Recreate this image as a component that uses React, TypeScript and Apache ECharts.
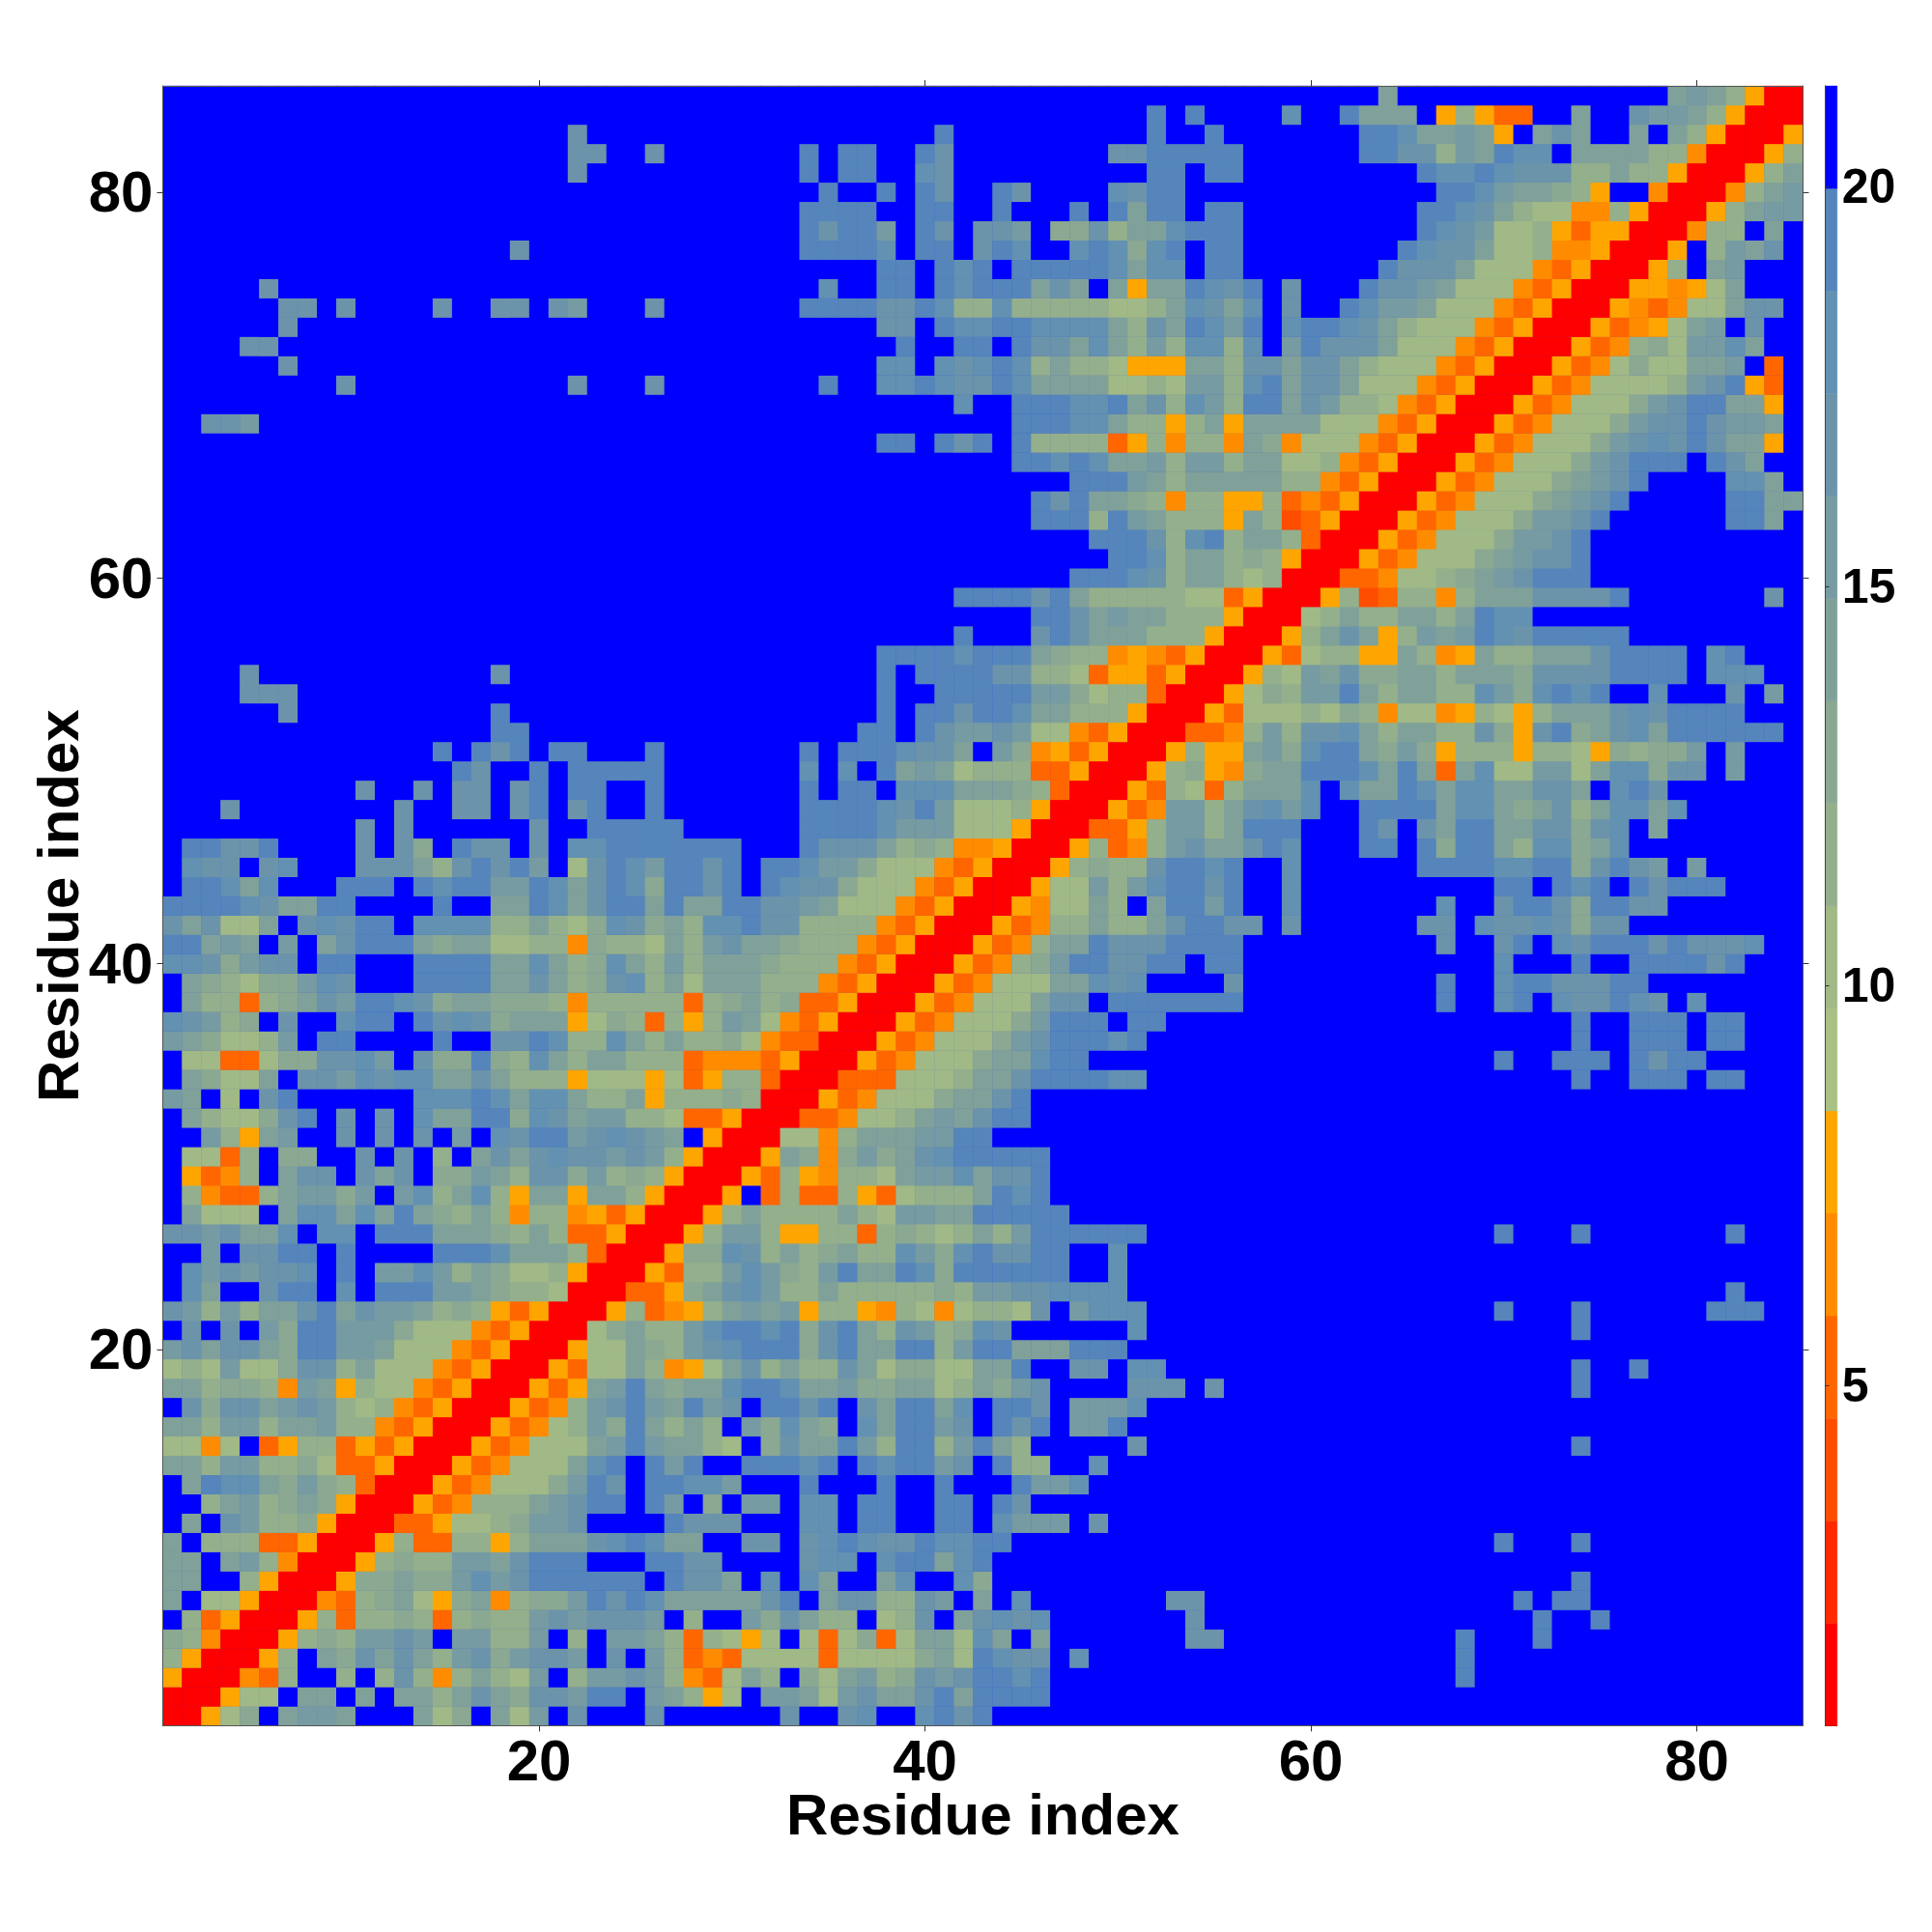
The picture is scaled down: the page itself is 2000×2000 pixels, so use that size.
import React, { useEffect, useRef } from "react";
import * as echarts from "echarts";

// Colour-bar scale: 16 equal levels between these limits
const scaleMin = 0.74;
const scaleMax = 21.26;
const levelColors = [
  "#ff0000", "#ff2a00", "#ff4d00", "#ff6600", "#ff8c00", "#ffa500",
  "#a9c184", "#a0b986", "#94af8c", "#8aa892", "#80a19a", "#769ba2",
  "#6b94ab", "#6291b2", "#5585bb", "#0000ff",
];
const barTicks = [5, 10, 15, 20];
const axisTicks = [20, 40, 60, 80];
const axisName = "Residue index";

// Distance level per cell (hex digit of the level, "." = top level), row 1 (bottom) first,
// column 1 first, grouped by ten; rows are blue to the right of where they stop.
const levelRows = [
  "00579.abba ...a79.a7b .c...c.... ..c..cd..d ece",
  "000577.aa. a.aa8aca9c cbee.ba857 .bba7bcaac eaeeee",
  "5000438..8 .8c848a87b .8bbcb8437 a8.97ab89c bceede.... .......... .......e..",
  "8500058.a9 caca8bc9bc cb.c.b8343 7777377779 a7edcc.d.. .......... .......e..",
  "9840005898 bbcb.bb88b .8.bba8387 57.737937a a7da.a.... ...cc..... .......e.. .e",
  ".835000583 889838988b cbcccb.8.. b9ca88.78c .acdcd.... ...c...... .......... .e..e",
  "a.77500043 89a759a489 9becedaaaa ace.acc88c b.a.d..... ..cc...... .......... e.ee",
  "aa..850005 99a99bdbce eeeee.ecca .d.da..ad. .d9....... .......... .......... ...e",
  "aa.ab84000 58988bbace ee...eecc. ...cdd.dee ade",
  "a.88833500 058338858a aacdedaa.. cc.cdedcce ddee...... .......... .........e ...e",
  ".a.cb88950 003357789b bc....eccc ...dd.ee.. ee.dbbb.c",
  "..8ab89a95 000534888a bcee.eb.9. bb.dd.ee.. ee.ec",
  ".aedda9b98 3000534777 9bec.eeddb ...e...e.. e...ebbd",
  "aa8bb88973 3500053477 7ade.ebe.. eeede.edee bc.e88..d",
  "7747.35883 5350005347 77abebaa87 .9caaeb8ee 8bea8..... c......... .......... ...e",
  "aa8bb8aab8 8435000534 78b9ea8a8. b9da9.daee bc.ece.bbe",
  ".c9ccabcb8 7843500053 48bcebaebc .eece.caee ad.eec.bbb d",
  "aa89984ba5 8774350005 35abea9aad eedaab99aa 78a9bc.... ccc.c..... .......... ...e",
  "787b779cc8 a777435000 5377a8457a c8a88ca799 77aae..cc. dd........ .......... ...e..e",
  "bcacca9eeb ba77743500 0577a98bcd eee9ceaaee 8beeaaaeee",
  ".c.c.b9eeb bb97774350 0079a88bde ede9cea8cb 89dc...... d......... .......... ...e",
  "cb8b8aacea cbba898535 000583458a bab5885487 47887c.bdd d......... .........e ...e...... eee",
  ".da..cee.d .eeebba988 70003359ac db88a88888 98bbccdddd .......... .......... .......... .e",
  ".dbcbccd.e .bbdb8a977 850005388b db98beaaed 9eeeeee..d",
  "..b.ccee.e ....eeedaa a83000599d c8a89a88db 9deccee..d",
  "ccbcaad.dd .eeeaaa98a 833500058b b855883898 78a8beeeee e......... .........e ...e...... .e",
  ".a777.adda daea98a848 8453500058 a8888a87bb aaeeeee",
  ".84338abb9 b.bd8ad85a a5aa850005 .383385378 88aede",
  ".5348.acc. cac.99ba8c c9b8985000 53854887ab bdacce",
  ".7738.99.. c.c.8.acac dccbcb8500 05a949b9ac deeeee",
  "..b85ab..c .c.c.b.dce ebcdcba.50 007748aaab bee",
  ".a8779ce.c .c.daaee9d cabb887335 000334778a bacee",
  "ba.7.ce... ...dddedad da88a58889 8000534777 9aace",
  ".a977a.ccb dcddaaca88 8577757358 8300033377 78aaceeeed d......... .......... ...e..eee. ee",
  ".7733799cc db.c99e98d a8aa888344 4350005347 779aadee.. .......... .........e ..eee.ecee",
  "ba9778b.ee ....e..cce d88da8a889 7433000534 7779bceeed e......... .......... ...e..eee. ee",
  "dcb89.c..d ee.ecdc9aa a57983858b a743500053 47779beee. ee........ .......... ...e..eee. ee",
  ".a88389acb eedc9aa999 8488888389 a893350005 34777acc.e eeeeee.... ......e..d e.dccedc.d",
  ".a98799bdc ...eeeeaac a89cd8a7aa a888435000 534777aadc d....c.... ......e..d eecccee",
  "ddc9bcc.ee ...eeeeaad a89da8b8aa a988843500 053489beec cee.ee.... .........d ...e..eeee ce",
  "eeaba.b.ac eeea9aa778 849887a8bc aa98884350 005348aaec cceeee.... ......c..c e.dceeecec ccd",
  "cac77a.cdc ee.dddd88a 879dc9a8dd ecc8888435 00053488a8 8aceecc.c. .....cc.dc cdc9cc",
  "eeeedcaaee ....e..aae daceeaeaae eccba77743 50005477a8 .aeebe..d. ......d..c eec9eecc",
  ".eedad...e ee.edeebbe daced9eece .edcc97774 35000577b8 bdeece..d. .........e e.ede.ecee e",
  ".dcc.cd... ccca8ceceb .7cedbeece .eedbb9777 4350005898 8ceede..d. .....eeeed dee9cecb.b",
  ".eecce.... c.c9.ecc.c .ddeeeeeee ...eccca89 8445000583 48bcaaced. ..ee.e9eea 8dd9ad",
  ".......... c.c......c ..eeeee... ...eeeedbb b777500033 58bb8aeee. ..ec.caeea acc9cd.a",
  "...c...... ..c..cc.ce .ce..e.... ...eeeedce b777850005 34bb8acdbd ..eeeeadda 9ac8addad",
  ".......... c..c.cc.ce .ee..e.... ...e.ee.dd daaa983000 538738aaad .daaedadda acca.dec",
  ".......... .....ec..e .eeeee.... ...d.d.eab a788833500 0589549aae eedaea3ad7 7bb7add9cc .b",
  ".......... ....e.ece. ee...e.... ...e.eeedc ca.b945350 005855ab9d eea9b95888 588759899b .b",
  ".......... .......ee. .......... ......ee.e cbbcb77435 0003348b8c cda8aa88c9 5ce9acdaee eeee",
  "......c... .......e.. .......... .......e.e eceedaa888 5000537778 7984774587 58aaacdcee ee",
  "....ccc... .......... .......... .......e.. eeeeebb978 830005798b bea8aa88db 9dede..d.. .c.b",
  "....c..... .......c.. .......... .......e.e eeecc88735 535000587b ac99aa8aaa 9cccceeee. ddd",
  ".......... .......... .......... .......eee edeeea9884 5435000537 8855a845a8 8aaaceeee. de",
  ".......... .......... .......... .......... .e...cecaa a888500058 aca58babed ceeeee",
  ".......... .......... .......... .......... .....eecab aa88850007 8a88aa8aed d",
  ".......... .......... .......... .......... .eeeecea88 8887735000 58238848aa acccce.... ...c",
  ".......... .......... .......... .......... .......eee dc8aa87800 03347789ab ceee",
  ".......... .......... .......... .......... .........e ed8aa89850 005347779a bcce",
  ".......... .......... .......... .......... ........ee ec8de8aa83 0005347779 bbce",
  ".......... .......... .......... .......... .....eee8e ba8885a823 5000534777 9bbce..... .eea",
  ".......... .......... .......... .......... .....eceaa 9848855834 3500053477 79abce.... .eeaa",
  ".......... .......... .......... .......... .......eee ba8aaaaa88 4350005347 779abce... .dda",
  ".......... .......... .......... .......... ....eededa ab8bb8aa77 8435000534 7779bceee. eca",
  ".......... .......... .......... .......ee. ece.e88883 584884a947 7743500053 47779bcdce caa5",
  "..ccb..... .......... .......... .......... ....eeedda 8858a5aaaa 7774350005 347779bcce cbba",
  ".......... .......... .......... .......... .d..eeedde ac8db8eeac b887435000 5347779bce eaa5",
  ".........c .......... .c...c.... ....e..dde dccedaaaa7 787bb8deac ca77743500 053477778b ce53",
  "......c... .......... .......... .......dd. dcded8a887 555aa8ccac ca87774350 005347977a ab.3",
  "....cc.... .......... .......... ........e. .ee.eccada 8b8dd8d.be ccca777435 000534897b bda",
  "......c... .......... .......... .......cc. eddeedddda 8caedbe.de edca877743 500053457a b.c",
  "......cc.c ....c..cc. cb...c.... ...eeeecce d88d888887 78adcad.c. .edbba7774 3500054347 7acc",
  ".....c.... .......... .......... ....d..ee. edeeeaca.a 5aaedce.c. ..eccba777 4350005545 7a",
  ".......... .......... .......... .......ee. ede.eeeeed add.ee.... ...eccca77 743500058. ab",
  ".......... ........c. .......... ...eeeed.e e.ced..ded 9de.ee.... ....edcca7 784450005. 8bac",
  ".......... .......... .......... ...eceeb.e c.ccb.99c8 aadeee.... .....edcb7 7853550004 88.a",
  ".......... .......... .......... ...eeee..e e..e...e.e aee.ee.... .....eedca 8774485000 58abb",
  ".......... .......... .......... ....e..e.e c..ec....d cee....... ......eedb aa985..400 048ab",
  ".......... .......... .c........ ...e.ee..d c......... .ee.ee.... .....edded ccc88a8850 0058a",
  ".......... .......... .cc..c.... ...e.ee..e c........c ceeeee.... ..eecc8bae dd.aaaa884 00058",
  ".......... .......... .c........ .......... e......... .e..e..... ..eedaaba5 .aca..a.a8 50005",
  ".......... .......... .......... .......... .......... .e.e....d. .eaaa.5853 3..a..cbba 85000",
  ".......... .......... .......... .......... .......... .......... ...a...... ........ab a8500",
];

const cellCount = 85;
const levelStep = (scaleMax - scaleMin) / levelColors.length;
const indices = Array.from({ length: cellCount }, (_, i) => String(i + 1));

function cellData(): number[][] {
  const out: number[][] = [];
  levelRows.forEach((raw, r) => {
    const row = raw.replace(/ /g, "").padEnd(cellCount, ".").slice(0, cellCount);
    for (let c = 0; c < cellCount; c++) {
      const level = row[c] === "." ? 15 : parseInt(row[c], 16);
      out.push([c, r, scaleMin + levelStep * (level + 0.5)]);
    }
  });
  return out;
}

const isTick = (_: number, value: string) => axisTicks.includes(Number(value));
const tickLine = { color: "#333", width: 1 };
const frameLine = { show: true, lineStyle: { color: "#555", width: 1 } };
const font = "Liberation Sans";

function baseCat(position: string, labelled: boolean, name?: string, nameGap?: number): any {
  return {
    type: "category",
    data: indices,
    position,
    z: 5,
    axisLine: frameLine,
    axisTick: { show: true, alignWithLabel: true, interval: isTick, length: 6, inside: false, lineStyle: tickLine },
    axisLabel: {
      show: labelled,
      interval: isTick,
      fontFamily: font,
      fontWeight: "bold",
      fontSize: 60,
      lineHeight: 46,
      color: "#000",
      margin: position === "bottom" ? 13 : 10,
      padding: position === "bottom" ? 0 : [5, 0, 0, 0],
    },
    splitLine: { show: false },
    name,
    nameLocation: "middle",
    nameGap,
    nameMoveOverlap: false,
    nameTextStyle: { fontFamily: font, fontWeight: "bold", fontSize: 60, lineHeight: 46, color: "#000" },
  };
}

export default function App() {
  const ref = useRef<HTMLDivElement>(null);
  useEffect(() => {
    const chart = echarts.init(ref.current!, undefined, { renderer: "svg" });
    const pieces = levelColors.map((color, i) => ({
      gte: scaleMin + i * levelStep,
      lt: scaleMin + (i + 1) * levelStep + (i === levelColors.length - 1 ? 1 : 0),
      color,
    }));
    chart.setOption({
      animation: false,
      backgroundColor: "#fff",
      grid: [
        { left: 168.5, top: 89, width: 1698, height: 1697.4, show: true, backgroundColor: "#0000ff", borderWidth: 0 },
        { left: 1889.5, top: 89, width: 12.3, height: 1697.4 },
      ],
      xAxis: [
        { ...baseCat("bottom", true, axisName, 69), gridIndex: 0 },
        { ...baseCat("top", false), gridIndex: 0 },
        {
          type: "value", gridIndex: 1, min: 0, max: 1, position: "bottom",
          axisLine: { show: true, lineStyle: { color: "#333", width: 1 } },
          axisTick: { show: false }, axisLabel: { show: false }, splitLine: { show: false },
        },
      ],
      yAxis: [
        { ...baseCat("left", true, axisName, 85), gridIndex: 0 },
        { ...baseCat("right", false), gridIndex: 0 },
        {
          type: "value", gridIndex: 1, min: scaleMin, max: scaleMax, position: "right", z: 5,
          axisLine: { show: true, lineStyle: { color: "#444", width: 1 } },
          axisTick: { show: true, length: 4, customValues: barTicks, lineStyle: tickLine },
          axisLabel: {
            show: true, customValues: barTicks, margin: 5,
            fontFamily: font, fontWeight: "bold", fontSize: 50, color: "#000",
          },
          splitLine: { show: false },
        },
        {
          type: "value", gridIndex: 1, min: scaleMin, max: scaleMax, position: "left", z: 5,
          axisLine: { show: true, lineStyle: { color: "#444", width: 1 } },
          axisTick: { show: false }, axisLabel: { show: false }, splitLine: { show: false },
        },
      ],
      visualMap: {
        show: false,
        type: "piecewise",
        seriesIndex: 0,
        dimension: 2,
        pieces,
      },
      series: [
        {
          type: "heatmap",
          xAxisIndex: 0,
          yAxisIndex: 0,
          data: cellData(),
          silent: true,
          progressive: 0,
          itemStyle: { borderWidth: 0 },
          emphasis: { disabled: true },
        },
        {
          type: "custom",
          xAxisIndex: 2,
          yAxisIndex: 2,
          silent: true,
          data: levelColors.map((_, i) => [scaleMin + i * levelStep, scaleMin + (i + 1) * levelStep, i]),
          encode: { y: [0, 1] },
          renderItem: (_: any, api: any) => {
            const a = api.coord([0, api.value(0)]);
            const b = api.coord([1, api.value(1)]);
            return {
              type: "rect",
              shape: { x: a[0], y: b[1], width: b[0] - a[0], height: a[1] - b[1] },
              style: { fill: levelColors[api.value(2)], stroke: levelColors[api.value(2)], lineWidth: 0.5 },
            };
          },
        },
      ],
    });
    return () => chart.dispose();
  }, []);
  return <div ref={ref} style={{ position: "absolute", left: 0, top: 0, width: 2000, height: 2000 }} />;
}
